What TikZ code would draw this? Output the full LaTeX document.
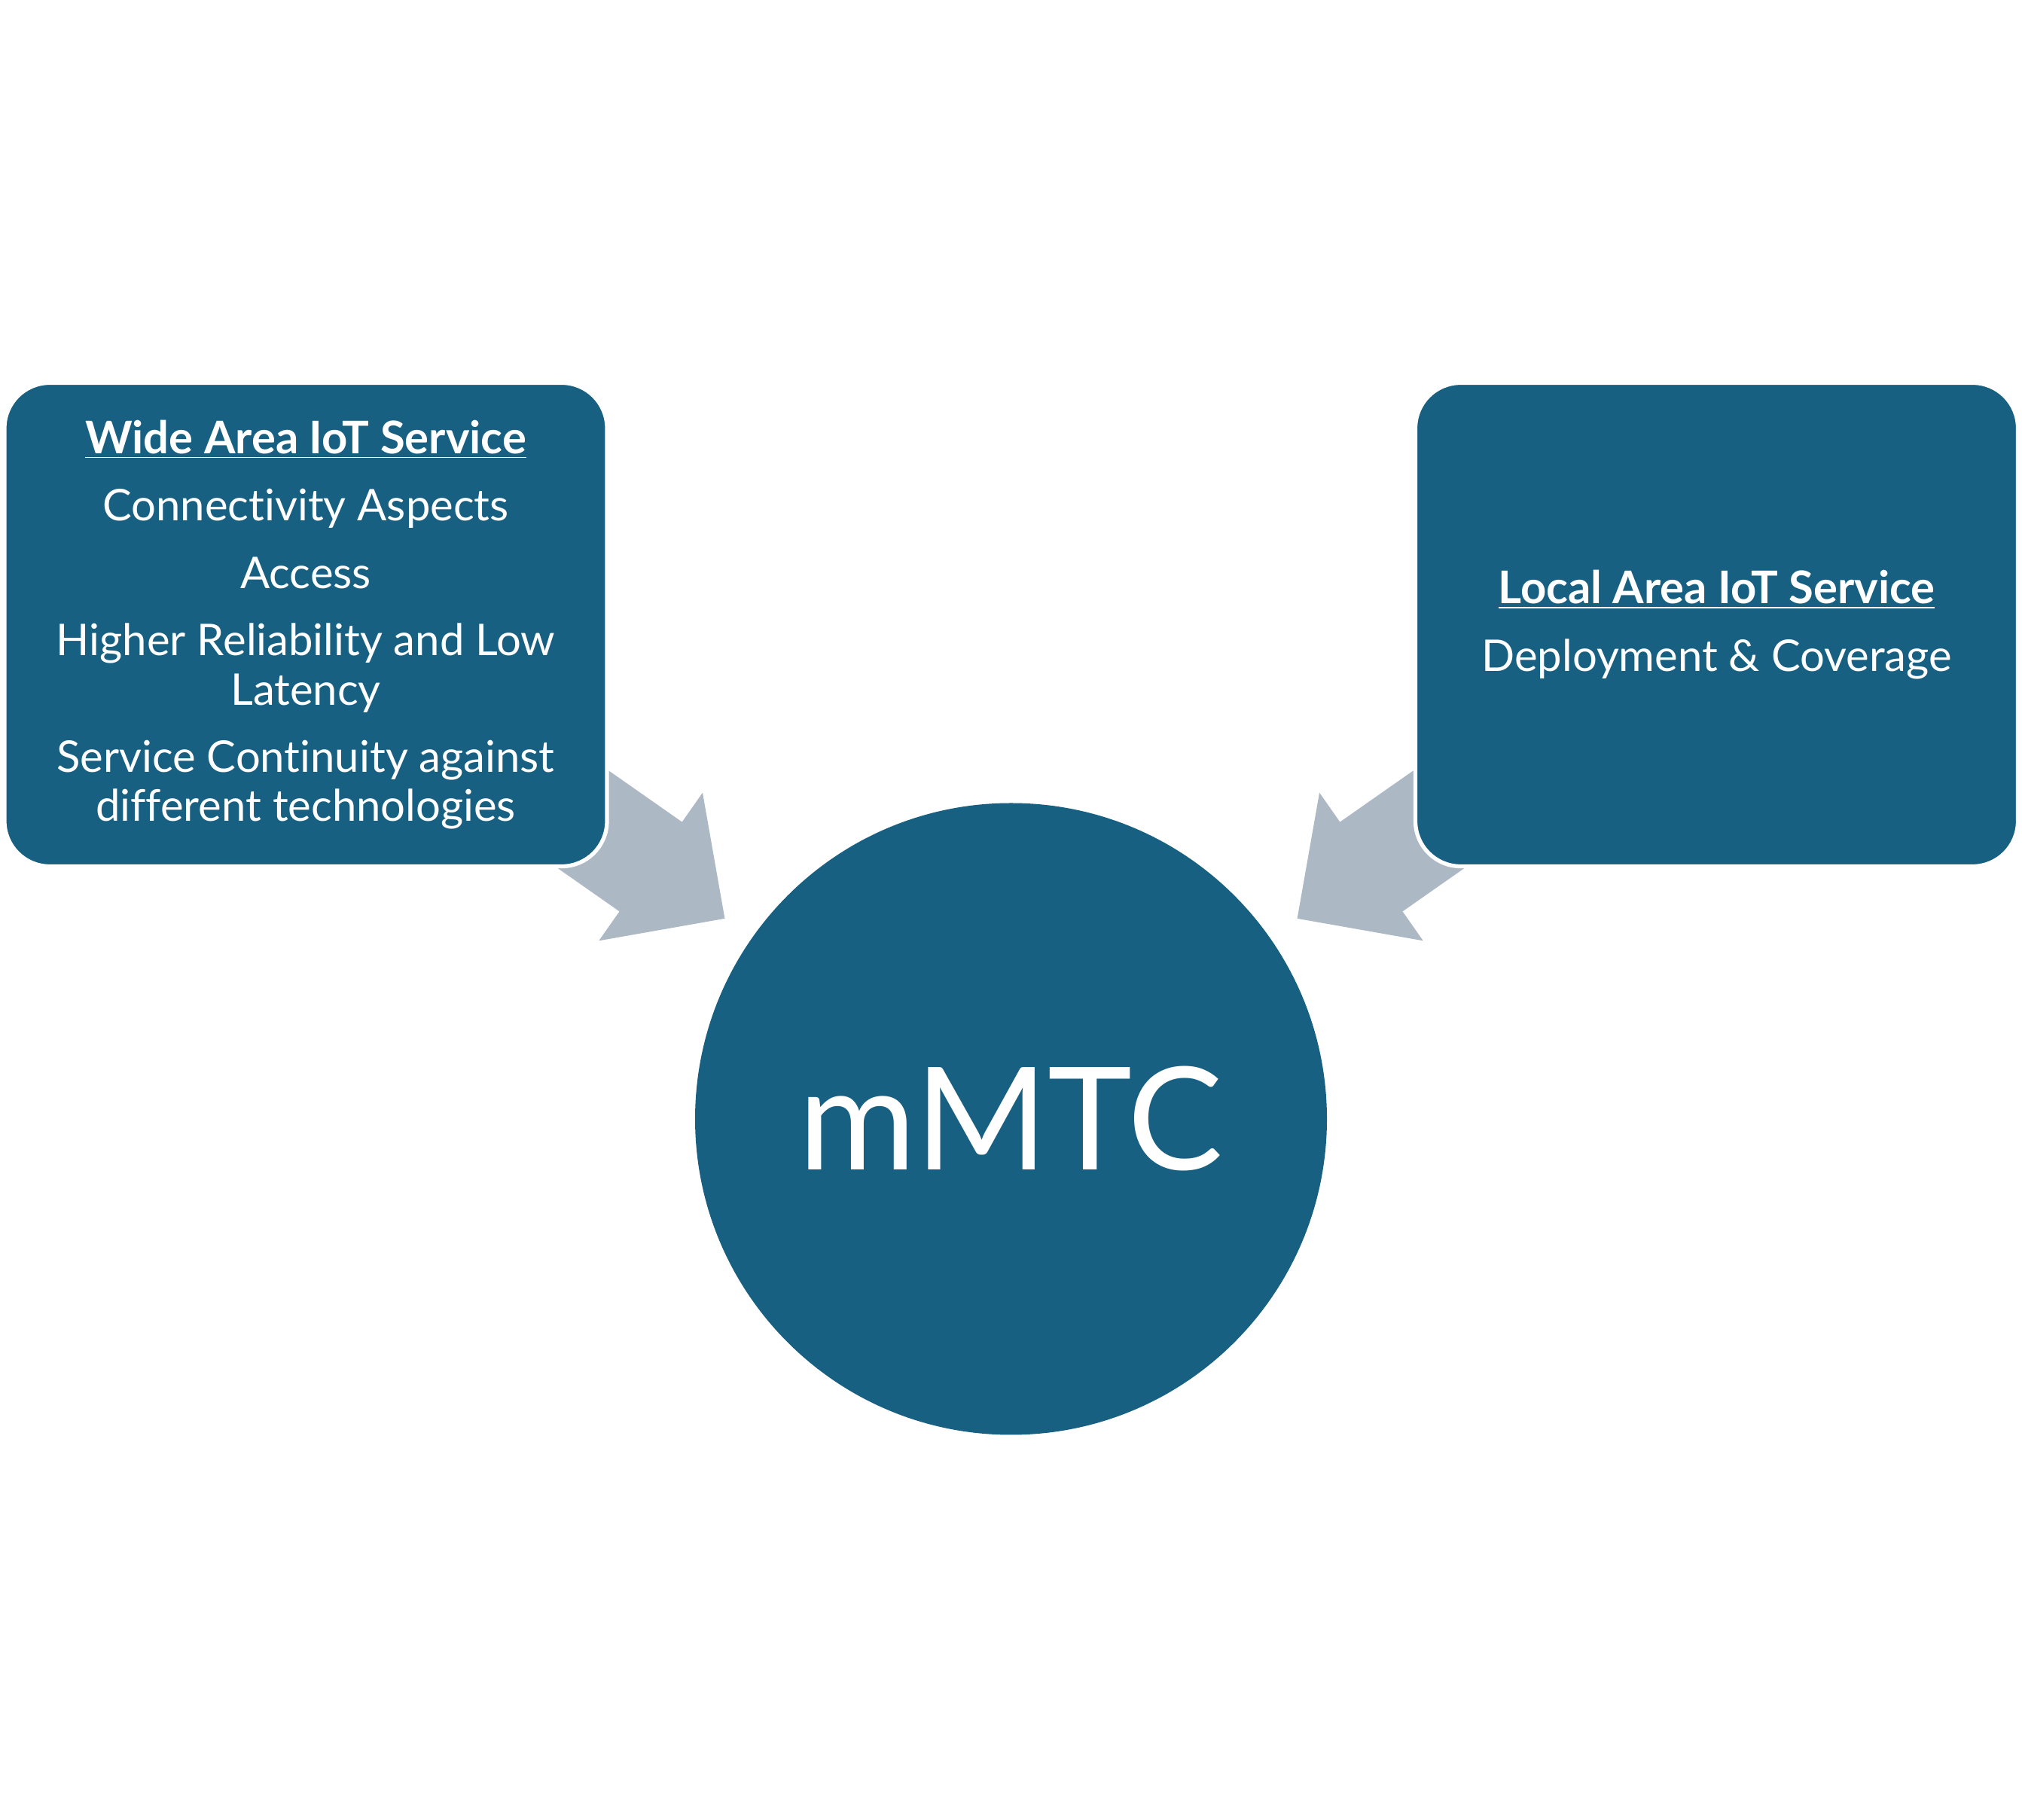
\documentclass[tikz,border=0pt]{standalone}
\usepackage{fontspec}
\setmainfont{Lato}[Ligatures=NoCommon]
\usepackage{tikz}
\usetikzlibrary{positioning}
\definecolor{boxblue}{HTML}{176082}
\definecolor{arrowgray}{HTML}{ACB8C3}
\newcommand{\svchead}[1]{{\fontsize{17}{18.5}\selectfont\underline{\textbf{#1}}}}

\begin{document}
\begin{tikzpicture}[svcbox/.style={fill=boxblue,draw=white,line width=1.5pt,rounded corners=0.6cm,minimum width=8.0cm,minimum height=6.42cm,text=white,align=center,font=\fontsize{16.5}{18.5}\selectfont},
hub/.style={circle,fill=boxblue,minimum size=8.39cm,text=white,font=\fontsize{54}{60}\selectfont},
flow/.style={fill=arrowgray}]
\useasboundingbox (0,0) rectangle (26.85,24.16);
\node[hub] (mmtc) at (13.425,9.30) {mMTC};
\path (mmtc.center) ++(145:4.64) coordinate (tipL);
\path (mmtc.center) ++(35:4.64) coordinate (tipR);
\fill[flow,shift={(tipL)},rotate=-35] (0,0) -- (-1.2,1.2) -- (-1.2,0.725) -- (-3.3,0.725) -- (-3.3,-0.725) -- (-1.2,-0.725) -- (-1.2,-1.2) -- cycle;
\fill[flow,shift={(tipR)},rotate=-145] (0,0) -- (-1.2,1.2) -- (-1.2,0.725) -- (-3.3,0.725) -- (-3.3,-0.725) -- (-1.2,-0.725) -- (-1.2,-1.2) -- cycle;
\node[svcbox] (wide) at (4.06,15.865) {\svchead{Wide Area IoT Service}\\[7pt]
Connectivity Aspects\\[7pt]
Access\\[7pt]
Higher Reliability and Low\\ Latency\\[7pt]
Service Continuity against\\ different technologies};
\node[svcbox] (local) at (22.795,15.865) {\svchead{Local Area IoT Service}\\[7pt]
Deployment \& Coverage};
\end{tikzpicture}
\end{document}
